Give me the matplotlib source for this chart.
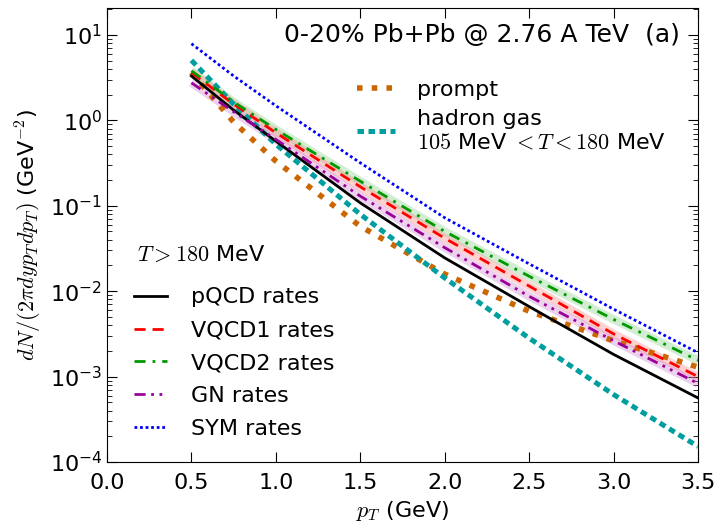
import numpy as np
import matplotlib
matplotlib.use("Agg")
import matplotlib.pyplot as plt

plt.rcParams["mathtext.fontset"] = "cm"
plt.rcParams["mathtext.default"] = "it"

# %% Daten (log10 der Ausbeute)
pT = np.array([0.5, 0.75, 1.0, 1.5, 2.0, 2.5, 3.0, 3.5])

log_pqcd = np.array([0.52, 0.12, -0.243, -0.966, -1.61, -2.18, -2.74, -3.25])
log_vqcd1 = np.array([0.56, 0.19, -0.145, -0.778, -1.38, -1.94, -2.50, -3.00])
log_vqcd2 = np.array([0.58, 0.215, -0.106, -0.712, -1.30, -1.825, -2.33, -2.81])
log_gn = np.array([0.44, 0.10, -0.223, -0.887, -1.49, -2.06, -2.58, -3.08])
log_sym = np.array([0.898, 0.52, 0.171, -0.497, -1.14, -1.68, -2.21, -2.72])
log_prompt = np.array([0.558, -0.02, -0.477, -1.24, -1.80, -2.235, -2.58, -2.89])
log_hg = np.array([0.703, 0.19, -0.28, -1.10, -1.845, -2.55, -3.21, -3.818])

pqcd = 10**log_pqcd
vqcd1 = 10**log_vqcd1
vqcd2 = 10**log_vqcd2
gn = 10**log_gn
sym = 10**log_sym
prompt = 10**log_prompt
hadron_gas = 10**log_hg

# %% Plot
fig = plt.figure(figsize=(7.23, 5.25), dpi=100)
ax = fig.add_axes([0.148, 0.12, 0.8174, 0.8648])

c_orange = "#cc6600"
c_teal = "#009e9e"
c_purple = "#990099"
c_green = "#009900"

# Unsicherheitsbaender (hell, hinter den Kurven)
ax.plot(pT, vqcd2, color="#7fcc7f", lw=6, alpha=0.35, solid_capstyle="butt")
ax.plot(pT, vqcd1, color="#ff8080", lw=6, alpha=0.35, solid_capstyle="butt")
ax.plot(pT, gn, color="#cc80cc", lw=6, alpha=0.35, solid_capstyle="butt")

l_prompt, = ax.plot(pT, prompt, color=c_orange, ls=":", lw=4)
l_hg, = ax.plot(pT, hadron_gas, color=c_teal, ls=(0, (1.3, 0.9)), lw=3.6)
l_pqcd, = ax.plot(pT, pqcd, color="black", ls="-", lw=2)
l_v1, = ax.plot(pT, vqcd1, color="red", ls=(0, (4, 2.5)), lw=2)
l_v2, = ax.plot(pT, vqcd2, color=c_green, ls=(0, (4, 2.5, 1, 2.5)), lw=2)
l_gn, = ax.plot(pT, gn, color=c_purple, ls=(0, (4, 2, 1, 2, 1, 2)), lw=2)
l_sym, = ax.plot(pT, sym, color="blue", ls=(0, (1, 1)), lw=2)

ax.set_yscale("log")
ax.set_xlim(0.0, 3.5)
ax.set_ylim(1e-4, 20.7)
ax.set_xticks(np.arange(0, 3.51, 0.5))
ax.tick_params(which="both", direction="in", top=True, right=True, labelsize=16)
ax.tick_params(which="major", length=7)
ax.tick_params(which="minor", length=3.5)
ax.tick_params(axis="x", pad=8)

ax.set_xlabel(r"$p_T$ (GeV)", fontsize=16, family="DejaVu Sans")
ax.set_ylabel(r"$dN/(2\pi dyp_T dp_T)$ (GeV$^{-2}$)", fontsize=16,
              family="DejaVu Sans")

ax.text(0.97, 0.94, "0-20% Pb+Pb @ 2.76 A TeV  (a)", transform=ax.transAxes,
        ha="right", va="center", fontsize=18)

leg1 = ax.legend([l_prompt, l_hg],
                 ["prompt", "hadron gas\n$105$ MeV $<T<180$ MeV"],
                 loc="upper left", bbox_to_anchor=(0.39, 0.885),
                 frameon=False, fontsize=16, handlelength=1.7,
                 labelspacing=0.4, handletextpad=1.0)
ax.add_artist(leg1)

# Titel der unteren Legende
ax.text(0.051, 0.456, "$T>180$ MeV", transform=ax.transAxes,
        ha="left", va="center", fontsize=16)

leg2 = ax.legend([l_pqcd, l_v1, l_v2, l_gn, l_sym],
                 ["pQCD rates", "VQCD1 rates", "VQCD2 rates", "GN rates",
                  "SYM rates"],
                 loc="lower left", bbox_to_anchor=(0.0, -0.008),
                 frameon=False, fontsize=16, handlelength=1.5,
                 labelspacing=0.58, handletextpad=1.1, borderaxespad=0.8)

plt.savefig("out.png", dpi=100)
